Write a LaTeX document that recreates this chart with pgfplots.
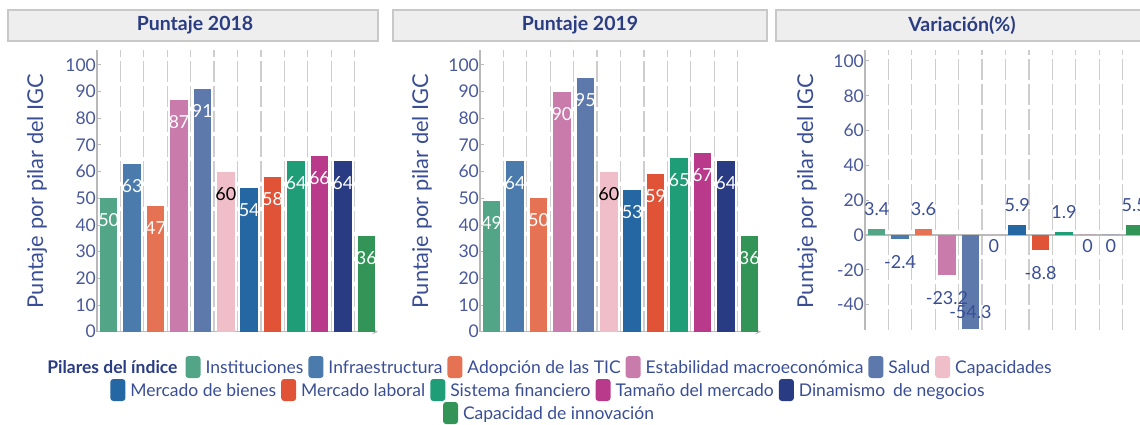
\documentclass[border=0pt]{standalone}
\usepackage{fontspec}
\setmainfont{Lato}
\usepackage{pgfplots}
\pgfplotsset{compat=1.18}

\definecolor{c1}{RGB}{82,165,134}
\definecolor{c2}{RGB}{74,123,172}
\definecolor{c3}{RGB}{230,114,84}
\definecolor{c4}{RGB}{201,123,172}
\definecolor{c5}{RGB}{93,121,171}
\definecolor{c6}{RGB}{240,190,201}
\definecolor{c7}{RGB}{36,103,163}
\definecolor{c8}{RGB}{224,83,55}
\definecolor{c9}{RGB}{31,157,119}
\definecolor{c10}{RGB}{185,58,138}
\definecolor{c11}{RGB}{41,59,130}
\definecolor{c12}{RGB}{50,148,87}
\definecolor{titleblue}{RGB}{42,60,130}
\definecolor{tickblue}{RGB}{72,88,155}
\definecolor{labblue}{RGB}{58,78,150}
\definecolor{axgray}{RGB}{185,185,185}
\definecolor{gridgray}{RGB}{205,205,205}
\definecolor{stripfill}{RGB}{238,238,238}
\definecolor{stripdraw}{RGB}{200,200,200}

\newcommand{\fs}[1]{\fontsize{#1}{#1}\selectfont}
\newcommand{\onebar}[4][]{\addplot[fill=#2,#1] coordinates {(#3,#4)};}
\newcommand{\sw}[1]{\tikz[baseline=5pt]\fill[#1,rounded corners=3pt] (0,0) rectangle (15pt,22pt);}

\pgfplotsset{
  panel/.style={
    scale only axis, width=281pt,
    ybar, bar width=17.5pt, bar shift=0pt,
    xmin=-0.5, xmax=11.5,
    xtick={0.5,1.5,...,10.5}, xticklabels={}, xtick style={draw=none},
    xmajorgrids,
    major x grid style={draw=gridgray, line width=1.2pt, dash pattern=on 21pt off 4pt},
    axis y line=left, axis line style={-, draw=axgray, line width=1.5pt},
    ytick style={draw=axgray, line width=1pt}, tick align=inside, major tick length=4pt,
    yticklabel style={text=tickblue, font=\fs{17.5}, inner sep=1pt},
    /pgf/number format/assume math mode=true,
    every axis plot/.append style={draw=none},
    clip=false,
  },
  score/.style={
    panel, height=281.7pt, ymin=0, ymax=105.6, ytick={0,10,...,100},
    axis x line=bottom,
    nodes near coords,
    every node near coord/.append style={anchor=center, yshift=-22pt, text=white, font=\fs{18}},
  },
  pos/.style={every node near coord/.append style={anchor=center, yshift=20pt}},
  neg/.style={every node near coord/.append style={anchor=center, yshift=-23pt}},
  zer/.style={every node near coord/.append style={anchor=center, yshift=-11pt}},
}

\begin{document}
\begin{tikzpicture}[x=1pt,y=1pt]
\path[use as bounding box] (0,0) rectangle (1140,-424);

% title strips
\draw[fill=stripfill, draw=stripdraw, line width=1.2pt] (8,-10) rectangle (378,-41);
\draw[fill=stripfill, draw=stripdraw, line width=1.2pt] (393,-10) rectangle (767,-41);
\draw[fill=stripfill, draw=stripdraw, line width=1.2pt] (776,-10) rectangle (1150,-41);
\node[font=\bfseries\fs{19.5}, text=titleblue] at (195,-25.5) {Puntaje 2018};
\node[font=\bfseries\fs{19.5}, text=titleblue] at (580,-25.5) {Puntaje 2019};
\node[font=\bfseries\fs{19.5}, text=titleblue] at (962,-25.5) {Variación(\%)};

% y labels
\node[rotate=90, font=\fs{21.8}, text=labblue] at (37,-191) {Puntaje por pilar del IGC};
\node[rotate=90, font=\fs{21.8}, text=labblue] at (422,-191) {Puntaje por pilar del IGC};
\node[rotate=90, font=\fs{21.8}, text=labblue] at (807,-191) {Puntaje por pilar del IGC};

% Puntaje 2018
\begin{axis}[score, at={(97pt,-331.7pt)}, anchor=south west]
\onebar{c1}{0}{50}
\onebar{c2}{1}{63}
\onebar{c3}{2}{47}
\onebar{c4}{3}{87}
\onebar{c5}{4}{91}
\onebar[every node near coord/.append style={text=black}]{c6}{5}{60}
\onebar{c7}{6}{54}
\onebar{c8}{7}{58}
\onebar{c9}{8}{64}
\onebar{c10}{9}{66}
\onebar{c11}{10}{64}
\onebar{c12}{11}{36}
\end{axis}

% Puntaje 2019
\begin{axis}[score, at={(480pt,-331.7pt)}, anchor=south west]
\onebar{c1}{0}{49}
\onebar{c2}{1}{64}
\onebar{c3}{2}{50}
\onebar{c4}{3}{90}
\onebar{c5}{4}{95}
\onebar[every node near coord/.append style={text=black}]{c6}{5}{60}
\onebar{c7}{6}{53}
\onebar{c8}{7}{59}
\onebar{c9}{8}{65}
\onebar{c10}{9}{67}
\onebar{c11}{10}{64}
\onebar{c12}{11}{36}
\end{axis}

% Variacion
\begin{axis}[panel, at={(865pt,-330pt)}, anchor=south west, height=280pt,
    ymin=-54.6, ymax=106.3, ytick={-40,-20,...,100},
    axis x line=middle,
    point meta=explicit symbolic, nodes near coords,
    every node near coord/.append style={text=labblue, font=\fs{18}}]
\addplot[fill=c1, pos] coordinates {(0,3.4)[3.4]};
\addplot[fill=c2, neg] coordinates {(1,-2.4)[-2.4]};
\addplot[fill=c3, pos] coordinates {(2,3.6)[3.6]};
\addplot[fill=c4, neg] coordinates {(3,-23.2)[-23.2]};
\addplot[fill=c5, every node near coord/.append style={anchor=center, yshift=17pt}] coordinates {(4,-54.3)[-54.3]};
\addplot[fill=c6, zer] coordinates {(5,0)[0]};
\addplot[fill=c7, pos] coordinates {(6,5.9)[5.9]};
\addplot[fill=c8, neg] coordinates {(7,-8.8)[-8.8]};
\addplot[fill=c9, pos] coordinates {(8,1.9)[1.9]};
\addplot[fill=c10, zer] coordinates {(9,0)[0]};
\addplot[fill=c11, zer] coordinates {(10,0)[0]};
\addplot[fill=c12, pos] coordinates {(11,5.5)[5.5]};
\end{axis}

% legend
\begin{scope}[every node/.style={font=\fs{17.5}, text=labblue, inner sep=0pt}]
\node at (549.5,-367) {\textcolor{titleblue}{\bfseries Pilares del índice}\hspace{8pt}\sw{c1}\hspace{5pt}Instituciones\hspace{5pt}\sw{c2}\hspace{5pt}Infraestructura\hspace{5pt}\sw{c3}\hspace{5pt}Adopción de las TIC\hspace{5pt}\sw{c4}\hspace{5pt}Estabilidad macroeconómica\hspace{5pt}\sw{c5}\hspace{5pt}Salud\hspace{5pt}\sw{c6}\hspace{5pt}Capacidades};
\node at (547.5,-390) {\sw{c7}\hspace{5pt}Mercado de bienes\hspace{5pt}\sw{c8}\hspace{5pt}Mercado laboral\hspace{5pt}\sw{c9}\hspace{5pt}Sistema financiero\hspace{5pt}\sw{c10}\hspace{5pt}Tamaño del mercado\hspace{5pt}\sw{c11}\hspace{5pt}Dinamismo\hspace{8pt}de negocios};
\node at (548.5,-413) {\sw{c12}\hspace{5pt}Capacidad de innovación};
\end{scope}
\end{tikzpicture}
\end{document}
